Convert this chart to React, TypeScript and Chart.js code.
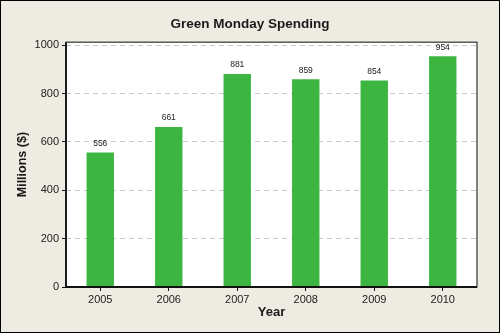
import React, { useEffect, useRef } from "react";
import { Chart, registerables } from "chart.js";

Chart.register(...registerables);

const years = ["2005", "2006", "2007", "2008", "2009", "2010"];
const spending = [556, 661, 881, 859, 854, 954];
const yTicks = [0, 200, 400, 600, 800, 1000];
const chartTitle = "Green Monday Spending";
const xTitle = "Year";
const yTitle = "Millions ($)";

const FONT = "'Liberation Sans', Arial, sans-serif";

const decorPlugin = {
  id: "decor",
  beforeDraw(chart: any) {
    const { ctx, width, height, chartArea } = chart;
    ctx.save();
    ctx.fillStyle = "#eeebe2";
    ctx.fillRect(0, 0, width, height);
    ctx.fillStyle = "#ffffff";
    ctx.fillRect(chartArea.left, chartArea.top, chartArea.right - chartArea.left, chartArea.bottom - chartArea.top);
    ctx.restore();
  },
  afterDatasetsDraw(chart: any) {
    const { ctx } = chart;
    const meta = chart.getDatasetMeta(0);
    const data = chart.data.datasets[0].data;
    ctx.save();
    ctx.font = `8.5px ${FONT}`;
    ctx.fillStyle = "#222";
    ctx.textAlign = "center";
    ctx.textBaseline = "middle";
    meta.data.forEach((el: any, i: number) => {
      ctx.fillText(String(data[i]), el.x, el.y - 9);
    });
    ctx.restore();
  },
  afterDraw(chart: any) {
    const { ctx, width, height, chartArea } = chart;
    ctx.save();
    ctx.strokeStyle = "#333";
    ctx.lineWidth = 1.2;
    ctx.strokeRect(chartArea.left, chartArea.top, chartArea.right - chartArea.left, chartArea.bottom - chartArea.top);
    ctx.strokeStyle = "#111";
    ctx.lineWidth = 1.8;
    ctx.beginPath();
    ctx.moveTo(chartArea.left, chartArea.top);
    ctx.lineTo(chartArea.left, chartArea.bottom);
    ctx.lineTo(chartArea.right, chartArea.bottom);
    ctx.stroke();
    ctx.strokeStyle = "#000";
    ctx.lineWidth = 1;
    ctx.strokeRect(0.5, 0.5, width - 1, height - 1);
    ctx.restore();
  },
};

export default function App() {
  const ref = useRef<HTMLCanvasElement | null>(null);
  useEffect(() => {
    document.body.style.margin = "0";
    const canvas = ref.current!;
    const chart = new Chart(canvas, {
      type: "bar",
      data: {
        labels: years,
        datasets: [
          {
            data: spending,
            backgroundColor: "#3db541",
            borderWidth: 0,
            barPercentage: 0.4,
            categoryPercentage: 1,
          },
        ],
      },
      options: {
        responsive: false,
        animation: false,
        devicePixelRatio: 1,
        layout: { padding: 0 },
        plugins: {
          legend: { display: false },
          tooltip: { enabled: false },
          title: {
            display: true,
            text: chartTitle,
            color: "#1a1a1a",
            font: { family: FONT, size: 13.5, weight: "bold" },
            padding: { top: 16, bottom: 10 },
          },
        },
        scales: {
          x: {
            offset: true,
            grid: {
              offset: false,
              drawOnChartArea: false,
              drawTicks: true,
              tickLength: 4,
              tickColor: "#111",
              tickWidth: 1,
            },
            border: { display: false },
            ticks: { color: "#222", font: { family: FONT, size: 11 }, padding: 2 },
            title: {
              display: true,
              text: xTitle,
              color: "#1a1a1a",
              font: { family: FONT, size: 13, weight: "bold" },
              padding: { top: 0, bottom: 13 },
            },
            afterFit(scale: any) {
              scale.height = 46;
            },
          },
          y: {
            min: 0,
            max: 1012,
            afterBuildTicks(scale: any) {
              scale.ticks = yTicks.map((v) => ({ value: v }));
            },
            grid: {
              color: "#c8c8c8",
              lineWidth: 1,
              drawTicks: true,
              tickLength: 4,
              tickColor: "#111",
              tickWidth: 1,
              tickBorderDash: [],
            },
            border: { display: false, dash: [5, 4] },
            ticks: {
              color: "#222",
              font: { family: FONT, size: 11 },
              padding: 3,
              callback: (v: any) => String(v),
            },
            title: {
              display: true,
              text: yTitle,
              color: "#1a1a1a",
              font: { family: FONT, size: 12.5, weight: "bold" },
              padding: { top: 15, bottom: 0 },
            },
            afterFit(scale: any) {
              scale.width = 66;
            },
          },
          yRight: {
            position: "right",
            display: true,
            min: 0,
            max: 1012,
            grid: { display: false, drawTicks: false },
            border: { display: false },
            ticks: { display: false },
            afterFit(scale: any) {
              scale.width = 23;
            },
          },
        },
      },
      plugins: [decorPlugin],
    } as any);
    return () => chart.destroy();
  }, []);
  return (
    <div style={{ width: 500, height: 333 }}>
      <canvas ref={ref} width={500} height={333} style={{ display: "block" }} />
    </div>
  );
}
